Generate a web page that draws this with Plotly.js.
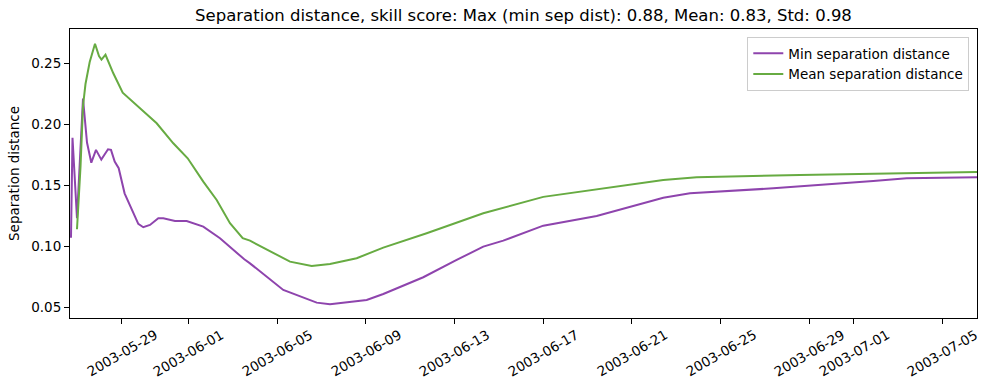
<!DOCTYPE html>
<html>
<head>
<meta charset="utf-8">
<script src="https://cdn.plot.ly/plotly-3.0.1.min.js"></script>
<style>html,body{margin:0;padding:0;background:#fff;}#chart{width:989px;height:390px;}</style>
</head>
<body>
<div id="chart"></div>
<script>
const minDates = [
  "2003-05-26 17:04","2003-05-26 18:42","2003-05-26 23:34","2003-05-27 06:04","2003-05-27 10:24",
  "2003-05-27 15:03","2003-05-27 20:08","2003-05-28 01:52","2003-05-28 09:07","2003-05-28 12:22",
  "2003-05-28 16:22","2003-05-28 20:41","2003-05-29 03:04","2003-05-29 10:45","2003-05-29 17:54",
  "2003-05-29 23:18","2003-05-30 06:33","2003-05-30 15:32","2003-05-30 20:57","2003-05-31 09:36",
  "2003-05-31 22:16","2003-06-01 16:13","2003-06-02 10:18","2003-06-03 12:36","2003-06-03 18:46",
  "2003-06-05 06:47","2003-06-06 18:56","2003-06-07 09:20","2003-06-09 01:02","2003-06-09 19:00",
  "2003-06-11 14:17","2003-06-13 02:25","2003-06-14 07:12","2003-06-15 04:51","2003-06-17 00:07",
  "2003-06-19 09:55","2003-06-22 09:59","2003-06-23 14:52","2003-06-27 09:00","2003-07-01 21:13",
  "2003-07-03 09:22","2003-07-06 13:25"
];
const minSep = [
  0.107,0.189,0.123,0.221,0.185,
  0.1685,0.179,0.171,0.1795,0.179,
  0.1694,0.164,0.1434,0.130,0.1183,
  0.1156,0.1175,0.1230,0.1230,0.1207,
  0.1207,0.1161,0.1066,0.0893,0.0860,
  0.0642,0.0538,0.0525,0.0560,0.0609,
  0.0746,0.0888,0.0997,0.1046,0.1169,
  0.1248,0.1398,0.1434,0.1475,0.1535,
  0.1557,0.1566
];
const meanDates = [
  "2003-05-26 23:34","2003-05-27 03:22","2003-05-27 06:04","2003-05-27 08:46","2003-05-27 13:19",
  "2003-05-27 19:03","2003-05-27 23:22","2003-05-28 02:05","2003-05-28 06:24","2003-05-28 14:51",
  "2003-05-29 01:01","2003-05-30 13:48","2003-05-31 07:46","2003-05-31 23:21","2003-06-01 16:13",
  "2003-06-02 06:43","2003-06-02 21:07","2003-06-03 10:52","2003-06-03 18:46","2003-06-04 06:40",
  "2003-06-05 14:02","2003-06-06 13:31","2003-06-07 09:20","2003-06-08 14:13","2003-06-09 19:00",
  "2003-06-11 17:57","2003-06-14 07:12","2003-06-17 00:07","2003-06-22 09:59","2003-06-23 22:08",
  "2003-06-28 13:54","2003-07-06 13:25"
];
const meanSep = [
  0.114,0.165,0.215,0.233,0.251,
  0.266,0.256,0.253,0.257,0.2418,
  0.2259,0.2008,0.1844,0.1721,0.1530,
  0.1379,0.1189,0.1066,0.1046,0.0997,
  0.0874,0.0838,0.0855,0.0902,0.0989,
  0.1107,0.1270,0.1405,0.1543,0.1565,
  0.1584,0.1609
];
const xTickVals = ["2003-05-29","2003-06-01","2003-06-05","2003-06-09","2003-06-13","2003-06-17",
  "2003-06-21","2003-06-25","2003-06-29","2003-07-01","2003-07-05"];
const yTickVals = [0.05,0.10,0.15,0.20,0.25];
const titleText = "Separation distance, skill score: Max (min sep dist): 0.88, Mean: 0.83, Std: 0.98";

const FONT = "DejaVu Sans, sans-serif";
const traces = [
  {x: minDates, y: minSep, type: "scatter", mode: "lines", name: "Min separation distance",
   line: {color: "#8e44ad", width: 2}},
  {x: meanDates, y: meanSep, type: "scatter", mode: "lines", name: "Mean separation distance",
   line: {color: "#67ab42", width: 2}}
];
const annotations = xTickVals.map(v => ({
  x: v, xref: "x", y: 0, yref: "paper", yshift: -35,
  text: v, showarrow: false, textangle: -30, xanchor: "center", yanchor: "middle",
  font: {family: FONT, size: 13.5, color: "#000"}
}));
const layout = {
  width: 989, height: 390,
  margin: {l: 70, r: 12, t: 29, b: 72, pad: 0},
  paper_bgcolor: "#fff", plot_bgcolor: "#fff",
  font: {family: FONT, size: 13.5, color: "#000"},
  title: {text: titleText, font: {family: FONT, size: 16.5, color: "#000"},
          x: 0.5293, xanchor: "center", y: 0.962, yanchor: "middle"},
  showlegend: true,
  legend: {x: 0.9915, xanchor: "right", y: 0.972, yanchor: "top",
           bordercolor: "#cccccc", borderwidth: 1, bgcolor: "rgba(255,255,255,0.8)",
           font: {family: FONT, size: 13.5, color: "#000"}, tracegroupgap: 0},
  xaxis: {type: "date", range: ["2003-05-26 16:00", "2003-07-06 13:27"],
          tickvals: xTickVals, showticklabels: false,
          ticks: "outside", ticklen: 5, tickwidth: 1, tickcolor: "#000",
          showline: true, linecolor: "#000", linewidth: 1, mirror: true,
          showgrid: false, zeroline: false, fixedrange: true},
  yaxis: {range: [0.0412, 0.2781], tickvals: yTickVals, tickformat: ".2f",
          ticks: "outside", ticklen: 5, tickwidth: 1, tickcolor: "#000",
          showline: true, linecolor: "#000", linewidth: 1, mirror: true,
          showgrid: false, zeroline: false, automargin: false,
          tickfont: {family: FONT, size: 13.5, color: "#000"},
          title: {text: "Separation distance", font: {family: FONT, size: 13.5, color: "#000"}, standoff: 8}},
  annotations: annotations
};
Plotly.newPlot("chart", traces, layout, {displayModeBar: false, staticPlot: true});
</script>
</body>
</html>
